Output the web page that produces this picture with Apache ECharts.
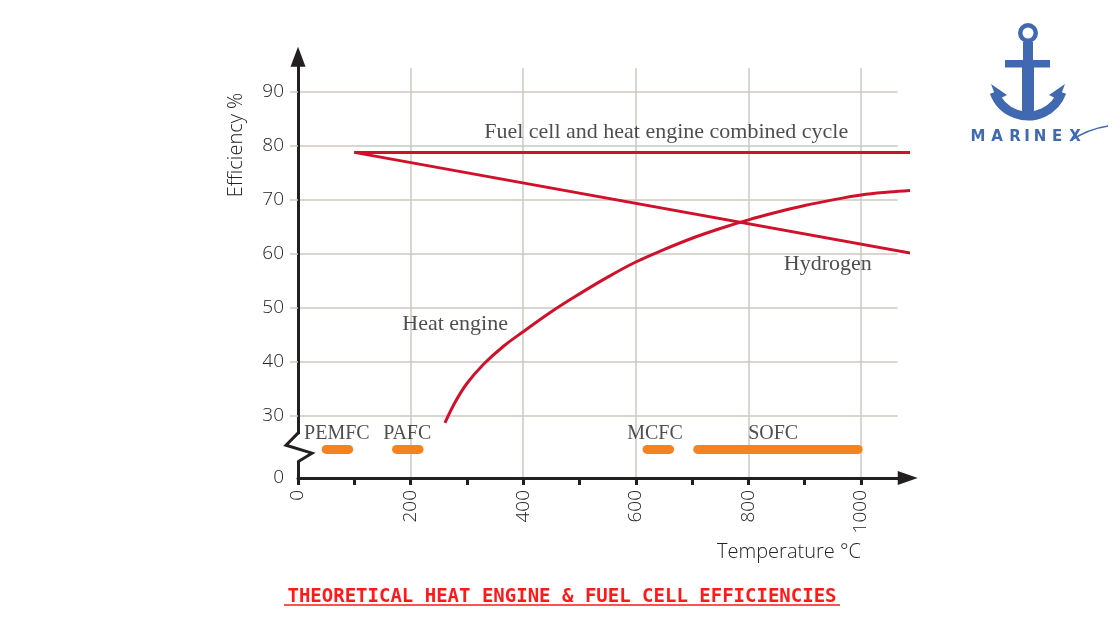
<!DOCTYPE html>
<html>
<head>
<meta charset="utf-8">
<script src="https://cdn.jsdelivr.net/npm/echarts@6/dist/echarts.min.js"></script>
<style>html,body{margin:0;padding:0;background:#fff}#c{width:1120px;height:630px}</style>
</head>
<body>
<div id="c"></div>
<script>
// ---------- data ----------
const xTickValues = [0,100,200,300,400,500,600,700,800,900,1000];
const xLabelValues = [0,200,400,600,800,1000];
const yLabelValues = [18.5,30,40,50,60,70,80,90];   // 18.5 = broken-axis "0"
const yTickValues = [30,40,50,60,70,80,90];
const combinedCycle = [[100,78.8],[1090,78.8]];
const hydrogen = [[100,78.8],[1090,60.1]];
const heatEngine = [[261,28.7],[280,32.7],[300,36.0],[330,39.6],[365,42.9],[400,45.6],[450,49.3],[500,52.6],[550,55.7],[600,58.5],[650,60.8],[700,62.9],[750,64.7],[800,66.3],[850,67.7],[900,68.95],[950,70.0],[1000,70.9],[1050,71.45],[1089,71.75]];
const fuelCellNames = ['PEMFC','PAFC','MCFC','SOFC'];
const fuelCellRanges = [[50,90],[175,215],[620,660],[710,995]];
const fuelCellBarLevel = 23.8;
const fuelCellLabelPos = [[69,26.7],[194,26.7],[634,26.7],[844,26.7]];
const noteNames = ['Fuel cell and heat engine combined cycle','Hydrogen','Heat engine'];
const notePos = [[654,82.6],[941,58.0],[279,46.9]];

// ---------- layout ----------
const X0 = 298, Y0 = 478, PX = 0.563, PY = 5.4;
const xMax = 1083, yMin = 18.5, yMax = 96.5;
const RED = '#d0112b', ORANGE = '#f4821f', GRIDC = '#cdc7c0', AX = '#231f20', TXT = '#222222';
const numFont = {fontFamily:'Open Sans', fontWeight:300, fontSize:19, color:TXT};

const grids = [
  {left:X0, top:Y0-(yMax-yMin)*PY, width:xMax*PX, height:(yMax-yMin)*PY, outerBoundsMode:'none'},
  {left:X0, top:Y0-(90-yMin)*PY, width:1065*PX, height:60*PY, outerBoundsMode:'none'},
  {left:X0, top:Y0-(94.4-yMin)*PY, width:1000*PX, height:(94.4-yMin)*PY, outerBoundsMode:'none'}
];

const series = [];
series.push({type:'line', name:'combined', data:combinedCycle, symbol:'none', clip:false,
  lineStyle:{color:RED, width:3}, z:3});
series.push({type:'line', name:'hydrogen', data:hydrogen, symbol:'none', clip:false,
  lineStyle:{color:RED, width:3}, z:3});
series.push({type:'line', name:'heat', data:heatEngine, symbol:'none', clip:false, smooth:0.4,
  lineStyle:{color:RED, width:3}, z:3});
fuelCellRanges.forEach((r,i)=>{
  series.push({type:'line', name:fuelCellNames[i], data:[[r[0],fuelCellBarLevel],[r[1],fuelCellBarLevel]],
    symbol:'none', clip:false, lineStyle:{color:ORANGE, width:9, cap:'round'}, z:3});
});
series.push({type:'scatter', name:'fcLabels', symbolSize:0, clip:false, z:4,
  data:fuelCellNames.map((n,i)=>({name:n, value:fuelCellLabelPos[i]})),
  label:{show:true, position:'inside', formatter:p=>p.name, fontFamily:'Liberation Serif', fontSize:20, color:TXT}});
series.push({type:'scatter', name:'notes', symbolSize:0, clip:false, z:4,
  data:noteNames.map((n,i)=>({name:n, value:notePos[i]})),
  label:{show:true, position:'inside', formatter:p=>p.name, fontFamily:'Liberation Serif', fontSize:22, color:TXT}});

const option = {
  animation:false,
  backgroundColor:'#ffffff',
  grid: grids,
  xAxis: [
    {gridIndex:0, type:'value', min:0, max:xMax, z:5,
     axisLine:{show:true, lineStyle:{color:AX, width:3}, symbol:['none','triangle'], symbolSize:[14,20]},
     axisTick:{show:true, length:7, lineStyle:{color:AX, width:3}, customValues:xTickValues},
     axisLabel:{show:true, rotate:90, margin:12, customValues:xLabelValues, formatter:v=>String(v), ...numFont},
     splitLine:{show:false}},
    {gridIndex:1, type:'value', min:0, max:1065, show:false},
    {gridIndex:2, type:'value', min:0, max:1000, interval:200,
     axisLine:{show:false}, axisTick:{show:false}, axisLabel:{show:false},
     splitLine:{show:true, lineStyle:{color:GRIDC, width:1.5}}}
  ],
  yAxis: [
    {gridIndex:0, type:'value', min:yMin, max:yMax, z:5,
     axisLine:{show:true, lineStyle:{color:AX, width:3}, symbol:['none','triangle'], symbolSize:[15,20]},
     axisTick:{show:true, length:8, lineStyle:{color:GRIDC, width:1.5}, customValues:yTickValues},
     axisLabel:{show:true, margin:14, customValues:yLabelValues, formatter:v=> (v<20?'0':String(v)), ...numFont},
     splitLine:{show:false}},
    {gridIndex:1, type:'value', min:30, max:90, interval:10,
     axisLine:{show:false}, axisTick:{show:false}, axisLabel:{show:false},
     splitLine:{show:true, lineStyle:{color:GRIDC, width:1.5}}},
    {gridIndex:2, type:'value', min:0, max:100, show:false}
  ],
  series: series
};

const chart = echarts.init(document.getElementById('c'), null, {renderer:'canvas'});
chart.setOption(option);

// ---------- decorations ----------
const zzTop = chart.convertToPixel({xAxisIndex:0, yAxisIndex:0}, [0, 26.8]);
const zzBot = chart.convertToPixel({xAxisIndex:0, yAxisIndex:0}, [0, 21.5]);
const ax = zzTop[0];
const BLUE = '#4169b1';
const marinex = 'MARINEX'.split('');
const marinexX = [978,997,1015,1027,1040,1057,1075];

const graphic = [
  {type:'rect', z:100, shape:{x:ax-3, y:zzTop[1]+1, width:6, height:zzBot[1]-zzTop[1]-2}, style:{fill:'#ffffff'}},
  {type:'polyline', z:101, shape:{points:[[ax,zzTop[1]],[ax-12,zzTop[1]+12],[ax+14,zzTop[1]+20],[ax,zzBot[1]]]},
   style:{stroke:AX, lineWidth:3, fill:null, lineJoin:'miter'}},
  {type:'text', z:100, x:236, y:145, rotation:Math.PI/2,
   style:{text:'Efficiency %', fontFamily:'Open Sans', fontWeight:300, fontSize:20, fill:TXT, align:'center', verticalAlign:'middle'}},
  {type:'text', z:100, x:789, y:552,
   style:{text:'Temperature °C', fontFamily:'Open Sans', fontWeight:300, fontSize:20, fill:TXT, align:'center', verticalAlign:'middle'}},
  {type:'text', z:100, x:562, y:597,
   style:{text:'THEORETICAL HEAT ENGINE & FUEL CELL EFFICIENCIES', fontFamily:'DejaVu Sans Mono', fontWeight:'bold', fontSize:19, fill:'#ff1a1a', align:'center', verticalAlign:'middle'}},
  {type:'line', z:100, shape:{x1:284, y1:605, x2:840, y2:605}, style:{stroke:'#ff1a1a', lineWidth:1.5}},
  // logo
  {type:'ring', z:100, shape:{cx:1028, cy:33, r:10, r0:5.5}, style:{fill:BLUE}},
  {type:'rect', z:100, shape:{x:1023, y:42, width:10, height:20}, style:{fill:BLUE}},
  {type:'rect', z:100, shape:{x:1005, y:60, width:45, height:7.5}, style:{fill:BLUE}},
  {type:'rect', z:100, shape:{x:1022, y:60, width:12, height:56}, style:{fill:BLUE}},
  {type:'arc', z:100, shape:{cx:1028, cy:80, r:36, startAngle:Math.PI*0.11, endAngle:Math.PI*0.89, clockwise:true},
   style:{stroke:BLUE, lineWidth:9, fill:null}},
  {type:'polygon', z:100, shape:{points:[[991,84],[1007,95],[997,100]]}, style:{fill:BLUE}},
  {type:'polygon', z:100, shape:{points:[[1065,84],[1049,95],[1059,100]]}, style:{fill:BLUE}},
  {type:'bezierCurve', z:100, shape:{x1:1070, y1:141, x2:1108, y2:126, cpx1:1088, cpy1:129}, style:{stroke:BLUE, lineWidth:1.5, fill:null}}
];
marinex.forEach((ch,i)=>{
  graphic.push({type:'text', z:100, x:marinexX[i], y:137,
    style:{text:ch, fontFamily:'DejaVu Sans', fontWeight:'bold', fontSize:15, fill:BLUE, align:'center', verticalAlign:'middle'}});
});
chart.setOption({graphic: graphic});
</script>
</body>
</html>
